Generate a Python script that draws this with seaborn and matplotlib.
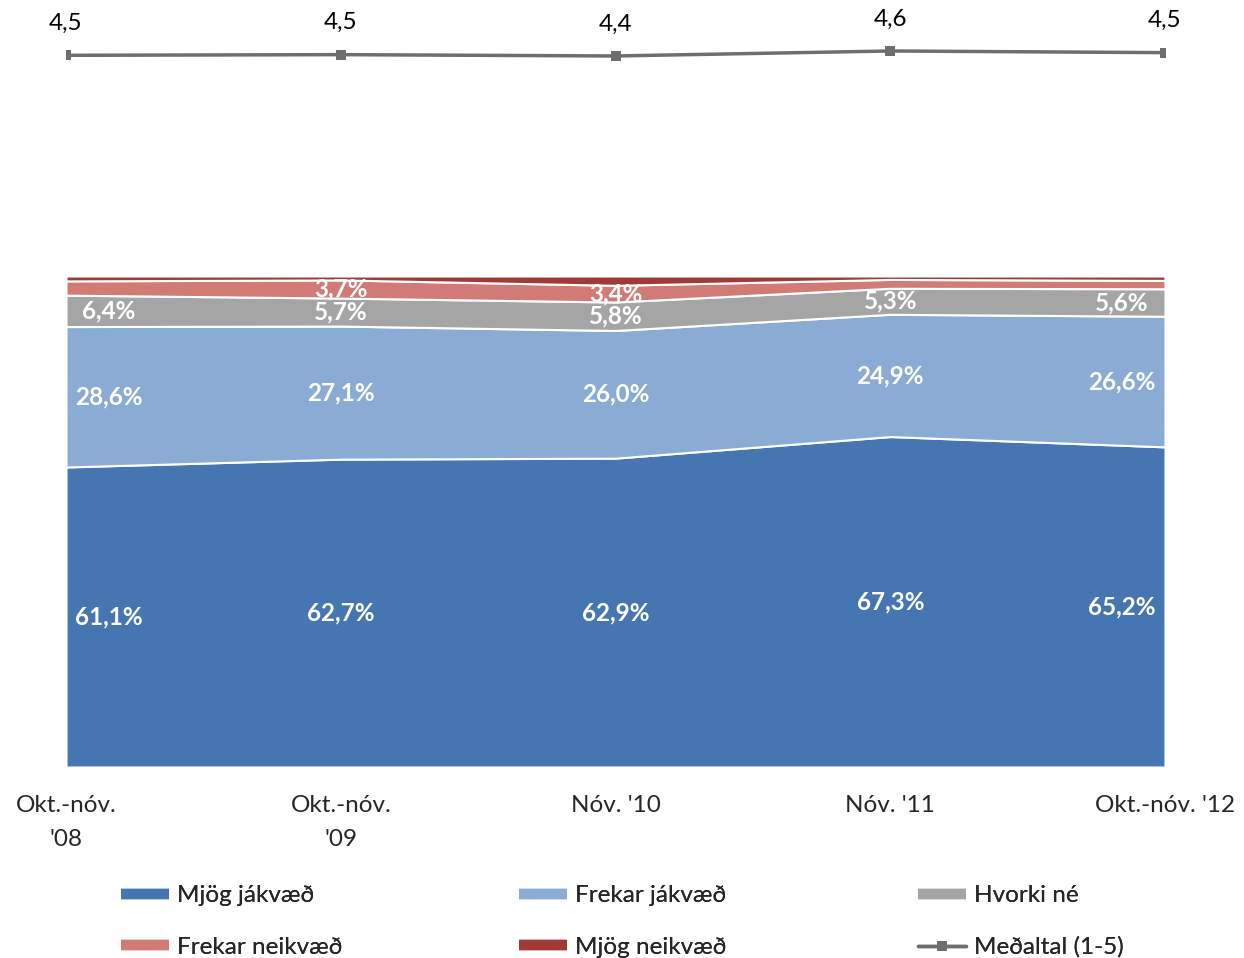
"""
Viðhorf - stacked area with mean line on top.
"""
import matplotlib.pyplot as plt
import numpy as np
import pandas as pd
import seaborn as sns
from matplotlib.lines import Line2D

# data
periods = ["Okt.-nóv.\n'08", "Okt.-nóv.\n'09", "Nóv. '10", "Nóv. '11", "Okt.-nóv. '12"]
mjog_jakvaed = [61.1, 62.7, 62.9, 67.3, 65.2]
frekar_jakvaed = [28.6, 27.1, 26.0, 24.9, 26.6]
hvorki_ne = [6.4, 5.7, 5.8, 5.3, 5.6]
frekar_neikvaed = [2.9, 3.7, 3.4, 1.8, 1.7]
mjog_neikvaed = [1.0, 0.8, 1.9, 0.7, 0.9]
medaltal = [4.46, 4.48, 4.44, 4.59, 4.54]

series_names = ["Mjög jákvæð", "Frekar jákvæð", "Hvorki né", "Frekar neikvæð", "Mjög neikvæð"]
colors = ["#4676B1", "#8AABD3", "#A5A5A5", "#D17A76", "#A13937"]
line_color = "#6E6E6E"
FS = 17.5

df = pd.DataFrame(
    [mjog_jakvaed, frekar_jakvaed, hvorki_ne, frekar_neikvaed, mjog_neikvaed],
    index=series_names,
)

sns.set_style("white")
plt.rcParams["font.family"] = ["Lato", "DejaVu Sans"]

W, H = 1244, 958
fig = plt.figure(figsize=(W / 100, H / 100), dpi=100)
# axes spans from figure top down to the 0% baseline
ax = fig.add_axes([66 / W, 191 / H, 1099 / W, 767 / H])
x = np.arange(len(periods))

ax.stackplot(x, df.values, colors=colors, edgecolor="white", linewidth=1.5)
ax.set_xlim(0, len(periods) - 1)
ax.set_ylim(0, 100 * 767 / 491)
ax.set_yticks([])
ax.set_xticks(x, periods)
ax.tick_params(axis="x", length=0, pad=20, labelsize=FS)
for lab in ax.get_xticklabels():
    lab.set_linespacing(1.75)
for s in ax.spines.values():
    s.set_visible(False)

# data labels (small segments are left unlabelled)
bottoms = df.cumsum().shift(1).fillna(0)
for name in series_names:
    for i in x:
        v = df.loc[name, i]
        if v < 3:
            continue
        dx = 31 if i == 0 else (-31 if i == len(x) - 1 else 0)
        ax.annotate(
            f"{v:.1f}%".replace(".", ","),
            (i, bottoms.loc[name, i] + v / 2),
            xytext=(dx, 0),
            textcoords="offset points",
            ha="center",
            va="center",
            color="white",
            fontsize=FS,
            fontweight="bold",
        )

# mean line on its own scale
ax2 = ax.twinx()
sns.lineplot(
    x=x, y=medaltal, ax=ax2, color=line_color, linewidth=2.5,
    marker="s", markersize=6.5, markeredgewidth=0,
)
ax2.set_ylim(-16.9, 6.12)
ax2.axis("off")
for i, v in zip(x, medaltal):
    ax2.annotate(
        f"{v:.1f}".replace(".", ","),
        (i, v),
        xytext=(0, 23),
        textcoords="offset points",
        ha="center",
        va="center",
        fontsize=FS,
        color="black",
    )

# legend: three columns, each its own legend so the columns sit evenly
patch = lambda c: Line2D([], [], color=c, lw=7.5, solid_capstyle="butt")
mean_h = Line2D([], [], color=line_color, lw=2.5, marker="s", markersize=6.5, markeredgewidth=0)
legend_cols = [
    ([patch(colors[0]), patch(colors[3])], [series_names[0], series_names[3]], 109),
    ([patch(colors[1]), patch(colors[4])], [series_names[1], series_names[4]], 507),
    ([patch(colors[2]), mean_h], [series_names[2], "Meðaltal (1-5)"], 906),
]
for hs, ls, px in legend_cols:
    leg = fig.legend(
        hs, ls, loc="upper left",
        bbox_to_anchor=(px / W, 85 / H), frameon=False, borderpad=0,
        handlelength=1.95, handletextpad=0.35,
        fontsize=FS, labelspacing=1.25,
    )
    fig.add_artist(leg)

plt.savefig("out.png", dpi=100)
